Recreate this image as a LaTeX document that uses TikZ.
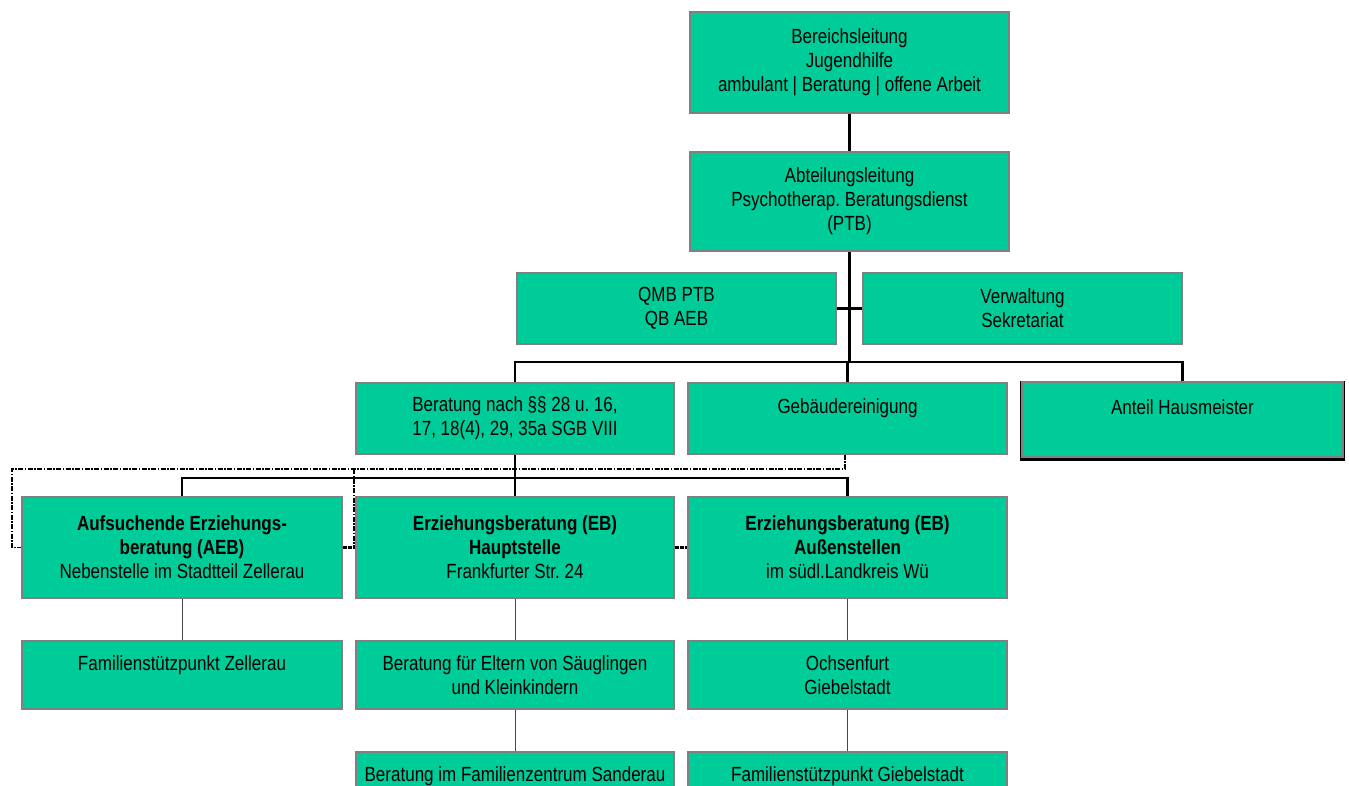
\documentclass[tikz,border=0pt]{standalone}
\usepackage{fontspec}
\setmainfont[FakeStretch=0.83]{Liberation Sans}
\frenchspacing
\definecolor{boxgreen}{RGB}{0,204,153}
\definecolor{boxborder}{RGB}{128,128,128}
\definecolor{thinconn}{RGB}{70,70,70}
\begin{document}
\begin{tikzpicture}[x=1pt,y=-1pt,
  box/.style={draw=boxborder, line width=1.6, fill=boxgreen, inner sep=0pt,
    align=center, font=\fontsize{20.5}{24}\selectfont, text=black},
  wide/.style={minimum width=319},
  tall/.style={minimum height=101},
  low/.style={minimum height=71},
  thickline/.style={draw=black, line width=2.7},
  thinline/.style={draw=thinconn, line width=1},
  dashline/.style={draw=black, line width=1.1, dash pattern=on 5pt off 1.5pt on 1.5pt off 1.5pt},
  dotline/.style={draw=black, line width=3.4, dash pattern=on 4pt off 1.2pt}
]
\useasboundingbox (0,0) rectangle (1349,785);
\clip (0,0) rectangle (1349,785);

% level 1 and 2
\node[box, wide, tall] (b1) at (849.5,62.5) {Bereichsleitung\\Jugendhilfe\\ambulant | Beratung | offene Arbeit};
\node[box, wide, minimum height=99] (b2) at (849.5,201.5) {Abteilungsleitung\\Psychotherap. Beratungsdienst\\(PTB)};
\node[box, wide, low] (qmb) at (676.5,308.5) {QMB PTB\\QB AEB};
\node[box, wide, low] (verw) at (1022.5,308.5) {Verwaltung\\Sekretariat};

% row 2
\node[box, minimum width=318, low] (r2a) at (515,418.5) {Beratung nach §§ 28 u. 16,\\17, 18(4), 29, 35a SGB VIII};
\node[box, wide, low] (r2b) at (847.5,418.5) {Gebäudereinigung\\\mbox{}};
\fill[black] (1019.5,380.5) rectangle (1345,460.5);
\node[box, minimum width=321, minimum height=75] (r2c) at (1182.5,419.5) {Anteil Hausmeister\\\mbox{}};

% row 3
\node[box, minimum width=320, tall] (r3a) at (182,547.5) {\textbf{Aufsuchende Erziehungs-}\\\textbf{beratung (AEB)}\\Nebenstelle im Stadtteil Zellerau};
\node[box, minimum width=318, tall] (r3b) at (515,547.5) {\textbf{Erziehungsberatung (EB)}\\\textbf{Hauptstelle}\\Frankfurter Str. 24};
\node[box, wide, tall] (r3c) at (847.5,547.5) {\textbf{Erziehungsberatung (EB)}\\\textbf{Außenstellen}\\im südl.Landkreis Wü};

% row 4
\node[box, minimum width=320, minimum height=68] (r4a) at (182,675) {Familienstützpunkt Zellerau\\\mbox{}};
\node[box, minimum width=318, minimum height=68] (r4b) at (515,675) {Beratung für Eltern von Säuglingen\\und Kleinkindern};
\node[box, wide, minimum height=68] (r4c) at (847.5,675) {Ochsenfurt\\Giebelstadt};

% row 5
\node[box, minimum width=318, minimum height=68] (r5b) at (515,786) {Beratung im Familienzentrum Sanderau\\\mbox{}};
\node[box, wide, minimum height=68] (r5c) at (847.5,786) {Familienstützpunkt Giebelstadt\\\mbox{}};

% connectors
\coordinate (bus1) at (849.5,362);
\coordinate (bus2) at (515,478);
\draw[thickline] (b1.south) -- (b2.north);
\draw[thickline] (b2.south) -- (bus1);
\draw[thickline] (qmb.east) -- (verw.west);
\draw[thickline] (r2a.north) |- (bus1) -| (r2c.north);
\draw[thickline] (bus1 -| r2b.north) -- (r2b.north);
\draw[thickline] (r2a.south) -- (r3b.north);
\draw[thickline] (r3a.north) |- (bus2) -| (r3c.north);

\coordinate (d1) at (845,469);
\coordinate (d2) at (12,469);
\coordinate (d3) at (12,547.5);
\coordinate (d4) at (354,469);
\coordinate (d5) at (354,547.5);
\draw[dashline] (r2b.south -| d1) -- (d1) -- (d2) -- (d3) -- (r3a.west);
\draw[dashline] (d4) -- (d5);
\draw[dotline] (r3a.east) -- (r3b.west);
\draw[dotline] (r3b.east) -- (r3c.west);

\draw[thinline] (r3a.south) -- (r4a.north);
\draw[thinline] (r3b.south) -- (r4b.north);
\draw[thinline] (r3c.south) -- (r4c.north);
\draw[thinline] (r4b.south) -- (r5b.north);
\draw[thinline] (r4c.south) -- (r5c.north);
\end{tikzpicture}
\end{document}
